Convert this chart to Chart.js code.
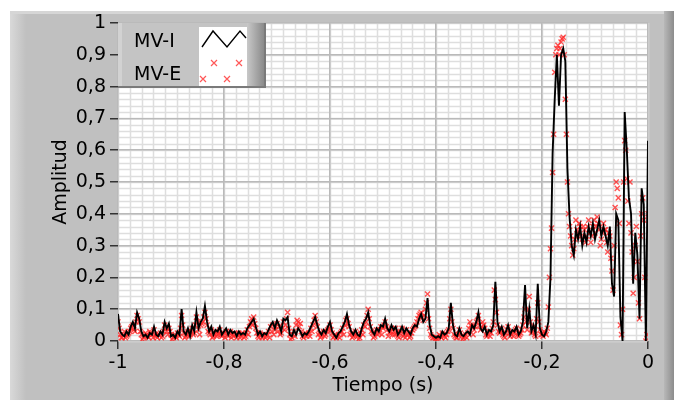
<!DOCTYPE html>
<html>
<head>
<meta charset="utf-8">
<script src="https://cdn.jsdelivr.net/npm/chart.js@4"></script>
<style>
  html, body { margin: 0; padding: 0; background: #fff; }
  canvas { display: block; }
</style>
</head>
<body>
<canvas id="grafico" width="674" height="400"></canvas>
<script>
// muestreo: de -1 s a 0 s (MV-E tiene el doble de muestras)
var tInicio = -1;
var pasoI = 0.004;
var pasoE = 0.002;

var nombres = ['MV-I', 'MV-E'];

var mvI = [
  0.085,0.03,0.02,0.015,0.03,0.02,0.045,0.06,0.04,0.09,
  0.07,0.03,0.015,0.02,0.01,0.025,0.02,0.045,0.02,0.015,
  0.03,0.02,0.06,0.04,0.055,0.015,0.02,0.01,0.03,0.02,
  0.1,0.03,0.02,0.04,0.015,0.05,0.03,0.09,0.04,0.06,
  0.07,0.11,0.06,0.03,0.045,0.02,0.035,0.03,0.045,0.02,
  0.03,0.04,0.02,0.035,0.025,0.03,0.015,0.03,0.02,0.025,
  0.02,0.04,0.05,0.06,0.07,0.045,0.02,0.03,0.015,0.025,
  0.02,0.035,0.05,0.06,0.04,0.065,0.05,0.03,0.07,0.065,
  0.075,0.02,0.015,0.035,0.02,0.04,0.03,0.015,0.025,0.02,
  0.03,0.045,0.06,0.075,0.05,0.03,0.02,0.035,0.025,0.045,
  0.06,0.03,0.02,0.01,0.025,0.03,0.045,0.06,0.085,0.05,
  0.03,0.02,0.035,0.02,0.015,0.04,0.06,0.07,0.09,0.05,
  0.03,0.02,0.04,0.03,0.05,0.045,0.07,0.04,0.03,0.05,
  0.035,0.045,0.02,0.03,0.045,0.025,0.04,0.03,0.02,0.04,
  0.05,0.045,0.07,0.085,0.06,0.07,0.135,0.05,0.02,0.015,
  0.01,0.015,0.01,0.03,0.02,0.025,0.04,0.12,0.05,0.02,
  0.015,0.04,0.02,0.015,0.025,0.03,0.02,0.05,0.04,0.06,
  0.09,0.04,0.03,0.045,0.02,0.035,0.03,0.05,0.186,0.06,
  0.03,0.045,0.02,0.03,0.05,0.02,0.035,0.03,0.045,0.02,
  0.03,0.06,0.176,0.04,0.1,0.03,0.05,0.02,0.18,0.04,
  0.02,0.015,0.03,0.06,0.2,0.59,0.76,0.9,0.74,0.9,
  0.92,0.88,0.54,0.39,0.3,0.27,0.35,0.32,0.36,0.3,
  0.34,0.31,0.36,0.33,0.37,0.32,0.35,0.38,0.33,0.36,
  0.33,0.3,0.36,0.18,0.14,0.4,0.38,0.075,0.0,0.72,
  0.6,0.45,0.4,0.18,0.34,0.27,0.07,0.48,0.43,0.0,0.63
];

var mvE = [
  0.06,0.04,0.02,0.01,0.01,0.02,0.03,0.01,0.015,0.02,0.025,0.03,0.04,0.045,0.05,0.035,0.03,0.06,0.08,0.07,
  0.06,0.03,0.02,0.005,0.01,0.015,0.025,0.02,0.015,0.01,0.03,0.025,0.02,0.01,0.035,0.02,0.015,0.01,0.02,0.02,
  0.025,0.01,0.015,0.03,0.05,0.04,0.03,0.02,0.04,0.03,0.02,0.005,0.01,0.015,0.02,0.01,0.025,0.02,0.015,0.04,
  0.08,0.05,0.025,0.01,0.015,0.02,0.03,0.015,0.02,0.03,0.04,0.02,0.025,0.05,0.075,0.06,0.035,0.02,0.05,0.055,
  0.06,0.075,0.09,0.07,0.05,0.03,0.025,0.02,0.035,0.01,0.015,0.02,0.03,0.015,0.02,0.025,0.035,0.02,0.015,0.02,
  0.025,0.01,0.03,0.02,0.015,0.025,0.03,0.01,0.02,0.015,0.025,0.02,0.01,0.02,0.025,0.01,0.015,0.025,0.02,0.01,
  0.015,0.025,0.035,0.02,0.045,0.06,0.07,0.05,0.075,0.055,0.04,0.025,0.015,0.01,0.025,0.02,0.01,0.015,0.02,0.01,
  0.015,0.02,0.03,0.01,0.045,0.03,0.05,0.02,0.035,0.045,0.055,0.03,0.045,0.02,0.025,0.04,0.06,0.035,0.05,0.07,
  0.09,0.04,0.02,0.005,0.01,0.02,0.03,0.015,0.05,0.065,0.06,0.045,0.055,0.03,0.015,0.01,0.02,0.025,0.015,0.02,
  0.025,0.015,0.04,0.03,0.05,0.065,0.08,0.06,0.045,0.02,0.025,0.01,0.015,0.02,0.03,0.015,0.02,0.03,0.035,0.04,
  0.05,0.035,0.025,0.01,0.015,0.02,0.01,0.015,0.02,0.01,0.025,0.03,0.04,0.02,0.05,0.065,0.07,0.055,0.045,0.02,
  0.025,0.01,0.015,0.02,0.03,0.02,0.015,0.005,0.01,0.025,0.035,0.02,0.05,0.045,0.06,0.08,0.1,0.07,0.045,0.03,
  0.025,0.01,0.015,0.025,0.035,0.02,0.025,0.035,0.045,0.02,0.04,0.05,0.06,0.045,0.035,0.015,0.025,0.03,0.04,0.02,
  0.03,0.02,0.04,0.025,0.015,0.01,0.025,0.03,0.04,0.015,0.02,0.01,0.035,0.02,0.025,0.01,0.015,0.025,0.035,0.04,
  0.045,0.05,0.06,0.07,0.08,0.085,0.09,0.075,0.065,0.08,0.1,0.12,0.148,0.07,0.04,0.02,0.015,0.01,0.01,0.005,
  0.01,0.005,0.01,0.02,0.015,0.01,0.025,0.02,0.015,0.01,0.02,0.03,0.035,0.07,0.1,0.06,0.04,0.02,0.015,0.01,
  0.01,0.02,0.035,0.025,0.015,0.005,0.01,0.015,0.02,0.01,0.025,0.04,0.06,0.05,0.045,0.02,0.035,0.045,0.06,0.065,
  0.08,0.05,0.035,0.045,0.06,0.05,0.04,0.02,0.015,0.02,0.03,0.015,0.025,0.04,0.06,0.16,0.13,0.09,0.05,0.03,
  0.025,0.03,0.04,0.02,0.015,0.01,0.025,0.035,0.045,0.025,0.015,0.02,0.03,0.015,0.025,0.035,0.04,0.02,0.015,0.02,
  0.025,0.035,0.05,0.075,0.1,0.06,0.035,0.1,0.14,0.06,0.025,0.03,0.045,0.02,0.015,0.07,0.12,0.06,0.035,0.02,
  0.02,0.015,0.03,0.025,0.02,0.04,0.107,0.2,0.29,0.355,0.53,0.65,0.845,0.9,0.92,0.93,0.9,0.92,0.94,0.95,
  0.955,0.9,0.76,0.65,0.5,0.4,0.36,0.33,0.3,0.27,0.29,0.32,0.38,0.35,0.34,0.37,0.36,0.33,0.32,0.36,
  0.35,0.31,0.33,0.36,0.38,0.34,0.31,0.33,0.36,0.38,0.34,0.36,0.39,0.37,0.35,0.3,0.32,0.34,0.37,0.35,
  0.35,0.31,0.28,0.34,0.33,0.26,0.22,0.16,0.3,0.42,0.5,0.48,0.45,0.37,0.05,0.02,0.1,0.5,0.63,0.6,
  0.51,0.44,0.37,0.5,0.34,0.28,0.15,0.2,0.3,0.36,0.25,0.12,0.07,0.33,0.4,0.45,0.38,0.2,0.0,0.02,0.4
];

function puntos(serie, paso) {
  return serie.map(function (v, i) {
    return { x: +(tInicio + i * paso).toFixed(4), y: v };
  });
}

function etiqueta(v) {
  var r = Math.round(v * 10) / 10;
  return String(r).replace('.', ',');
}

var fuente = "'DejaVu Sans', Verdana, sans-serif";

// panel gris, area blanca y rejilla menor
var fondo = {
  id: 'fondo',
  beforeDraw: function (chart) {
    var ctx = chart.ctx, a = chart.chartArea;
    var xs = chart.scales.x, ys = chart.scales.y;
    ctx.save();
    ctx.fillStyle = '#c0c0c0';
    ctx.fillRect(10, 11, 664, 389);
    var g = ctx.createLinearGradient(10, 0, 26, 0);
    g.addColorStop(0, '#d9d9d9');
    g.addColorStop(1, '#c0c0c0');
    ctx.fillStyle = g;
    ctx.fillRect(10, 11, 16, 389);
    ctx.fillStyle = '#d6d6d6';
    ctx.fillRect(10, 11, 664, 3);
    var g2 = ctx.createLinearGradient(664, 0, 674, 0);
    g2.addColorStop(0, '#b8b8b8');
    g2.addColorStop(1, '#8c8c8c');
    ctx.fillStyle = g2;
    ctx.fillRect(664, 11, 10, 389);

    ctx.fillStyle = '#ffffff';
    ctx.fillRect(a.left, a.top, a.right - a.left, a.bottom - a.top);

    ctx.strokeStyle = '#dedede';
    ctx.lineWidth = 1.5;
    ctx.beginPath();
    var k, p;
    for (k = 0; k <= 45; k++) {
      p = Math.round(xs.getPixelForValue(-1 + k * 0.2 / 9)) + 0.5;
      ctx.moveTo(p, a.top);
      ctx.lineTo(p, a.bottom);
    }
    for (k = 0; k <= 50; k++) {
      p = Math.round(ys.getPixelForValue(k * 0.02)) + 0.5;
      ctx.moveTo(a.left, p);
      ctx.lineTo(a.right, p);
    }
    ctx.stroke();
    ctx.restore();
  }
};

// leyenda estilo LabVIEW
var leyenda = {
  id: 'leyenda',
  afterDraw: function (chart) {
    var ctx = chart.ctx;
    var x = 118, y = 23, w = 148, h = 65;
    ctx.save();
    ctx.fillStyle = '#c4c4c4';
    ctx.fillRect(x, y, w, h);
    ctx.fillStyle = '#d2d2d2';
    ctx.fillRect(x, y, 4, h);
    var g = ctx.createLinearGradient(x + 129, 0, x + 146, 0);
    g.addColorStop(0, '#c8c8c8');
    g.addColorStop(1, '#8a8a8a');
    ctx.fillStyle = g;
    ctx.fillRect(x + 129, y, 17, h);
    ctx.fillStyle = '#7a7a7a';
    ctx.fillRect(x, y + h - 2, w, 2);
    ctx.fillRect(x + w - 2, y, 2, h);

    ctx.fillStyle = '#ffffff';
    ctx.fillRect(x + 81, y + 4, 48, 59);

    ctx.fillStyle = '#000';
    ctx.font = '19px ' + fuente;
    ctx.textBaseline = 'alphabetic';
    ctx.fillText(nombres[0], x + 16, y + 24);
    ctx.fillText(nombres[1], x + 16, y + 57);

    ctx.strokeStyle = '#000';
    ctx.lineWidth = 1.4;
    ctx.beginPath();
    ctx.moveTo(x + 84, y + 24);
    ctx.lineTo(x + 95, y + 8);
    ctx.lineTo(x + 109, y + 24);
    ctx.lineTo(x + 122, y + 8);
    ctx.lineTo(x + 128, y + 15);
    ctx.stroke();

    ctx.strokeStyle = 'rgba(255,70,70,0.9)';
    ctx.lineWidth = 1.2;
    [[96, 40], [121, 40], [85, 56], [109, 56]].forEach(function (c) {
      ctx.beginPath();
      ctx.moveTo(x + c[0] - 3, y + c[1] - 3);
      ctx.lineTo(x + c[0] + 3, y + c[1] + 3);
      ctx.moveTo(x + c[0] + 3, y + c[1] - 3);
      ctx.lineTo(x + c[0] - 3, y + c[1] + 3);
      ctx.stroke();
    });
    ctx.restore();
  }
};

new Chart(document.getElementById('grafico'), {
  type: 'line',
  data: {
    datasets: [
      {
        label: nombres[0],
        data: puntos(mvI, pasoI),
        borderColor: '#000000',
        borderWidth: 1.9,
        pointRadius: 0,
        tension: 0,
        order: 0
      },
      {
        label: nombres[1],
        data: puntos(mvE, pasoE),
        showLine: false,
        pointStyle: 'crossRot',
        pointRadius: 3.6,
        pointBorderWidth: 1.4,
        pointBorderColor: 'rgba(255,40,40,0.8)',
        pointBackgroundColor: 'rgba(255,40,40,0.8)',
        order: 1
      }
    ]
  },
  options: {
    responsive: false,
    animation: false,
    devicePixelRatio: 1,
    layout: { padding: { left: 10, top: 23, right: 26, bottom: 0 } },
    plugins: {
      legend: { display: false },
      tooltip: { enabled: false }
    },
    scales: {
      x: {
        type: 'linear',
        min: -1,
        max: 0,
        afterFit: function (s) { s.height = 59; },
        ticks: {
          stepSize: 0.2,
          color: '#000',
          padding: 3,
          maxRotation: 0,
          font: { family: fuente, size: 19 },
          callback: etiqueta
        },
        grid: {
          color: '#bababa',
          lineWidth: 1.5,
          tickColor: '#333',
          tickLength: 8
        },
        border: { display: false },
        title: {
          display: true,
          text: 'Tiempo (s)',
          color: '#000',
          font: { family: fuente, size: 19 },
          padding: { top: 0, bottom: 3 }
        }
      },
      y: {
        min: 0,
        max: 1,
        afterFit: function (s) { s.width = 108; },
        ticks: {
          stepSize: 0.1,
          color: '#000',
          padding: 4,
          font: { family: fuente, size: 19 },
          callback: etiqueta
        },
        grid: {
          color: '#bababa',
          lineWidth: 1.5,
          tickColor: '#333',
          tickLength: 8
        },
        border: { display: false },
        title: {
          display: true,
          text: 'Amplitud',
          color: '#000',
          font: { family: fuente, size: 19 },
          padding: { top: 40, bottom: 0 }
        }
      }
    }
  },
  plugins: [fondo, leyenda]
});
</script>
</body>
</html>
